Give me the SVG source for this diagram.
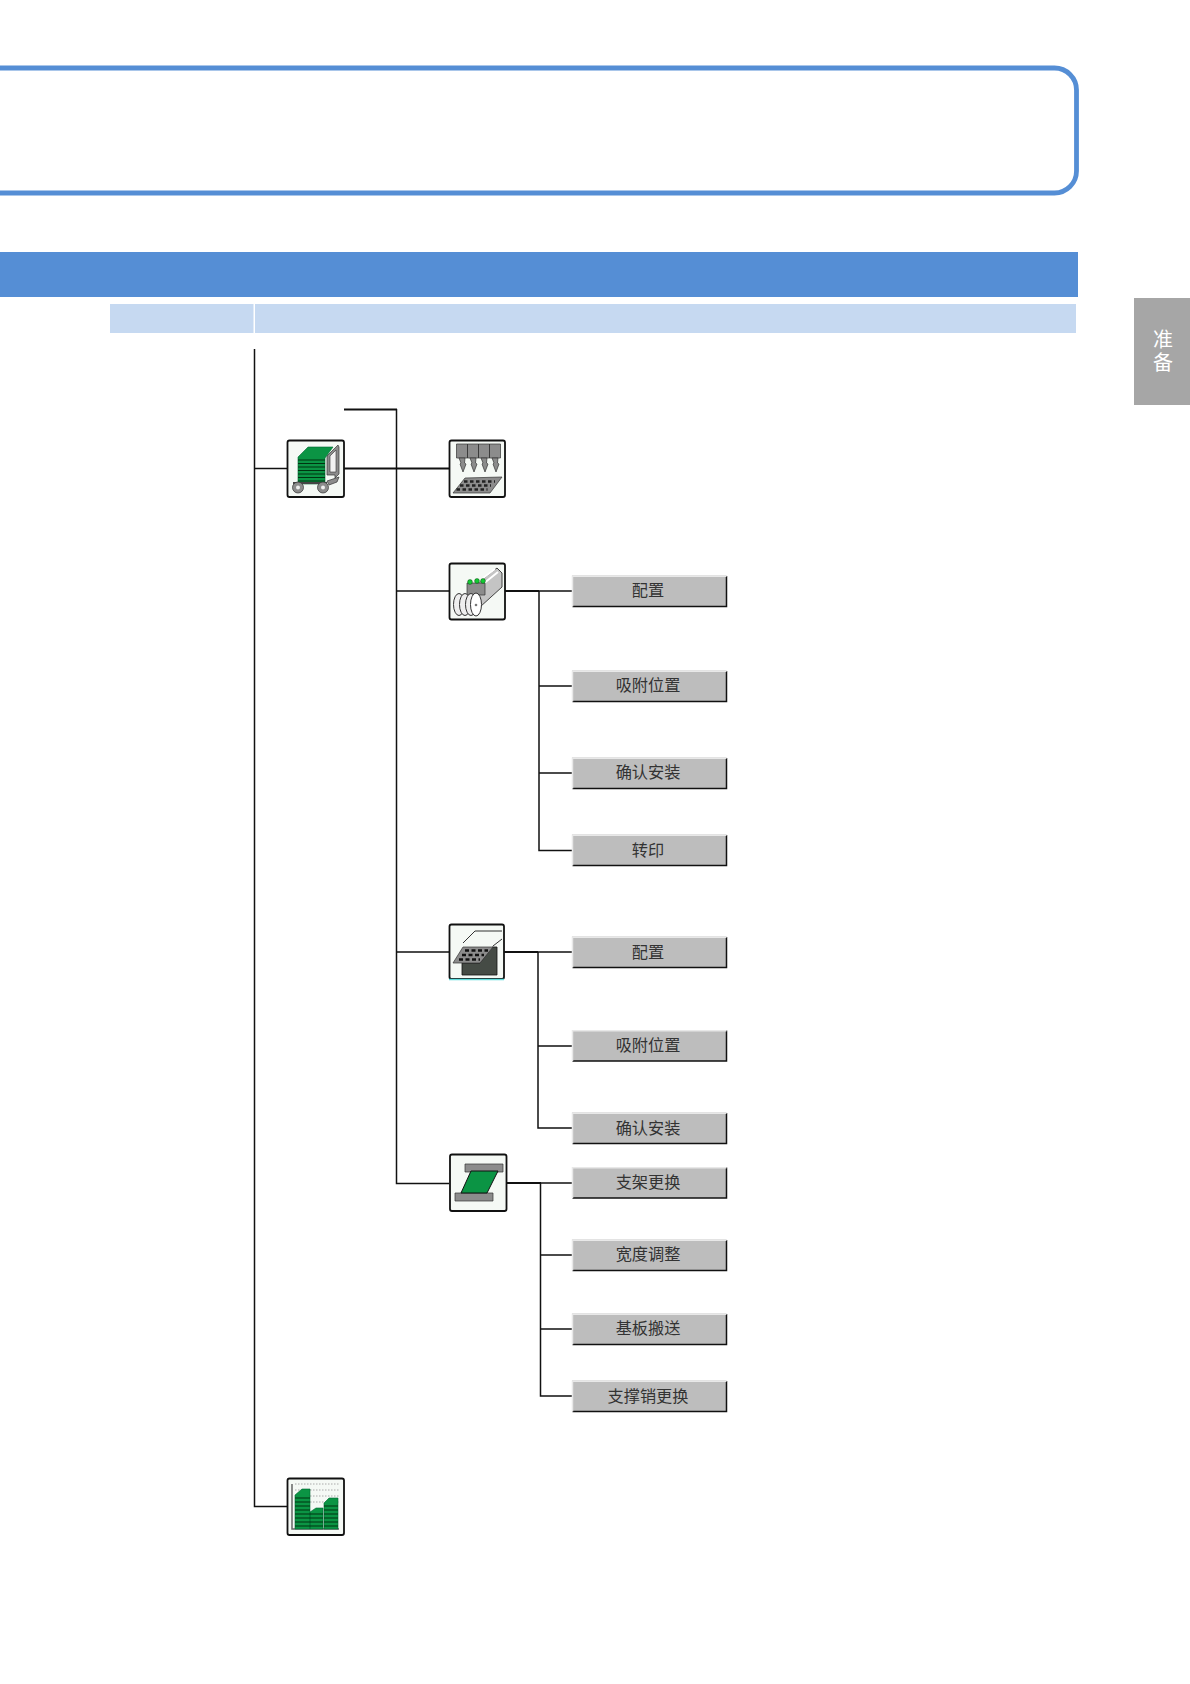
<svg xmlns="http://www.w3.org/2000/svg" width="1190" height="1684" viewBox="0 0 1190 1684">
<style>
.btnbg{fill:#bdbdbd;stroke:none}
.hl{fill:none;stroke:#e8e8e8;stroke-width:1.5}
.sh{fill:none;stroke:#111;stroke-width:1.5}
.lbl{font-family:"Noto Sans CJK SC","Liberation Sans",sans-serif;font-size:16.200px;fill:#333;text-anchor:middle}
.tab{font-family:"Noto Sans CJK SC","Liberation Sans",sans-serif;font-size:20px;fill:#fff;text-anchor:middle}
.ic{fill:#f5f9f5;stroke:#111;stroke-width:1.800}
.c{fill:none;stroke:#111;stroke-width:1.500}
.t{fill:none;stroke:#111;stroke-width:2}
.g{fill:#0b9444;stroke:#063;stroke-width:.6}
.k{fill:#8c8c8c;stroke:#333;stroke-width:.7}
.st{fill:none;stroke:#031;stroke-width:1.100}
</style>
<defs>
<g id="btn">
<rect class="btnbg" width="154.500" height="31"/>
<path class="sh" d="M0.500 31H154.500V0.500"/>
<path class="hl" d="M0.500 31V0.700H154.500"/>
</g>
</defs>
<rect id="title-frame" x="-30" y="68" width="1106.500" height="125" rx="22" fill="none" stroke="#558ed5" stroke-width="4.800"/>
<rect id="header-bar" x="0" y="252" width="1078" height="45" fill="#558ed5"/>
<rect id="subhead-a" x="110" y="304" width="143.500" height="29" fill="#c6d9f1"/>
<rect id="subhead-b" x="255" y="304" width="821" height="29" fill="#c6d9f1"/>
<g id="side-tab">
<rect x="1134" y="298" width="56" height="107" fill="#a6a6a6"/>
<text class="tab" x="1163" y="347">准</text>
<text class="tab" x="1163" y="370">备</text>
</g>
<g id="connectors">
<path class="c" d="M254.500 349V1506.500H287M254.500 468.500H287"/>
<path class="t" d="M344 409.500H397"/>
<path class="t" d="M344 468.500H449"/>
<path class="c" d="M396.500 409V1183.500H449M396.500 591H449M396.500 952H449"/>
<path class="t" d="M505 591H539"/>
<path class="c" d="M539 591V850.500H572M539 591H572M539 686H572M539 773H572"/>
<path class="t" d="M504 952H538"/>
<path class="c" d="M538 952V1128H572M538 952H572M538 1046H572"/>
<path class="t" d="M507 1183H541"/>
<path class="c" d="M540.500 1183V1396H573M540.500 1183H573M540.500 1255H572M540.500 1329H572"/>
</g>
<g id="icon-cart">
<rect class="ic" x="287.500" y="440.500" width="56.500" height="56.500" rx="2"/>
<path class="k" d="M327 456l11-11 1 2v27l-4 4v-3h-8z"/>
<path d="M330 456l6-6v22h-6z" fill="#f2f2f2" stroke="#333" stroke-width=".6"/>
<path class="g" d="M298 457l10-10h25l-8 11v26h-27z"/>
<path class="st" d="M298 460h27M298 463.500h27M298 467h27M298 470.500h27M298 474h27M298 477.500h27M298 481h27"/>
<path class="k" d="M327 481l12-4-2 5-8 3z"/>
<path d="M293 483h34" stroke="#444" stroke-width="2"/>
<circle class="k" cx="298" cy="487.500" r="5.500"/>
<circle class="k" cx="323" cy="487.500" r="5.500"/>
<circle cx="298" cy="487.500" r="2" fill="#eee"/>
<circle cx="323" cy="487.500" r="2" fill="#eee"/>
</g>
<g id="icon-nozzle">
<rect class="ic" x="449.500" y="440.500" width="55.500" height="56.500" rx="2"/>
<path class="k" d="M456.500 444h11v14h-11zM467.500 444h11v14h-11zM478.500 444h11v14h-11zM489.500 444h11v14h-11z"/>
<path class="k" d="M459 458h6l-.5 5 1.500 1-3 8-3-8 1-1zM470 458h6l-.5 5 1.500 1-3 8-3-8 1-1zM481 458h6l-.5 5 1.500 1-3 8-3-8 1-1zM492 458h6l-.5 5 1.500 1-3 8-3-8 1-1z"/>
<path class="k" fill="#bbb" d="M465 478l37-1-12 16h-37z"/>
<path d="M464 481.500h31M460 485.500h31M456.500 489.500h31" stroke="#222" stroke-width="2.300" stroke-dasharray="3.500 2.500" fill="none"/>
</g>
<g id="icon-feeder">
<rect class="ic" x="449.500" y="563.500" width="55.500" height="56" rx="2"/>
<path d="M473 587l24-19 5 5v14l-22 20-7-5z" fill="#c4c4c4" stroke="#444"/>
<path d="M478 582l17-13M483 584l15-12" stroke="#fff" stroke-width="2"/>
<path class="k" d="M467 583h18v12h-18z"/>
<circle cx="470" cy="582" r="2.400" fill="#1c3" stroke="#141" stroke-width=".5"/>
<circle cx="477" cy="581" r="2.400" fill="#1c3" stroke="#141" stroke-width=".5"/>
<circle cx="483" cy="581" r="2.400" fill="#1c3" stroke="#141" stroke-width=".5"/>
<ellipse cx="459" cy="604.500" rx="5.500" ry="11" fill="#eee" stroke="#333"/>
<ellipse cx="465" cy="604.500" rx="5.500" ry="11" fill="#eee" stroke="#333"/>
<ellipse cx="471" cy="604.500" rx="5.500" ry="11" fill="#eee" stroke="#333"/>
<ellipse cx="476" cy="604.500" rx="5.500" ry="11.500" fill="#fff" stroke="#333"/>
<circle cx="476" cy="605" r="1.300" fill="#777"/>
</g>
<g id="icon-tray">
<rect class="ic" x="449.500" y="924.500" width="54.500" height="54.500" rx="2"/>
<path d="M449 979.500h55" stroke="#5fdcdc" stroke-width="1.500"/>
<path d="M463 943l12-12h27M493 946l9-7" fill="none" stroke="#333"/>
<path d="M462 963h18l12-16h5v28h-35z" fill="#454b45" stroke="#111" stroke-width=".8"/>
<path class="k" d="M463 947h30l-13 16h-27z"/>
<path d="M465 950.500h23M462 955h22M459 959.500h21" stroke="#111" stroke-width="2.600" stroke-dasharray="4 2.500" fill="none"/>
</g>
<g id="icon-board">
<rect class="ic" x="450" y="1154.500" width="56.500" height="56.500" rx="2"/>
<path class="k" d="M465 1164h38v8h-38z"/>
<path class="k" d="M455 1193h38v8h-38z"/>
<path d="M471 1171h27l-11 22h-26z" fill="#0b9444" stroke="#111"/>
</g>
<g id="icon-chart">
<rect class="ic" x="287.500" y="1478.500" width="56.500" height="56.500" rx="2"/>
<path d="M292 1484v45h47" fill="none" stroke="#666" stroke-width="1.500"/>
<path d="M295 1484h44M295 1490h44M295 1496h44M295 1502h44" stroke="#aaa" stroke-width="1" stroke-dasharray="1.500 1.500"/>
<path class="g" d="M295 1495l7-6h8v40h-15zM310 1512l6-4h7v21h-13zM324 1503l5-5h9v31h-14z"/>
<path class="st" d="M295 1498h15M295 1502h15M295 1506h15M295 1510h15M295 1514h15M295 1518h15M295 1522h15M295 1526h15M310 1514h13M310 1518h13M310 1522h13M310 1526h13M324 1506h14M324 1510h14M324 1514h14M324 1518h14M324 1522h14M324 1526h14"/>
</g>
<g id="b1"><use href="#btn" x="572" y="575.500"/><text class="lbl" x="648" y="596">配置</text></g>
<g id="b2"><use href="#btn" x="572" y="670.500"/><text class="lbl" x="648" y="691">吸附位置</text></g>
<g id="b3"><use href="#btn" x="572" y="757.500"/><text class="lbl" x="648" y="778">确认安装</text></g>
<g id="b4"><use href="#btn" x="572" y="834.500"/><text class="lbl" x="648" y="855.500">转印</text></g>
<g id="b5"><use href="#btn" x="572" y="936.500"/><text class="lbl" x="648" y="957.500">配置</text></g>
<g id="b6"><use href="#btn" x="572" y="1030"/><text class="lbl" x="648" y="1051">吸附位置</text></g>
<g id="b7"><use href="#btn" x="572" y="1112.500"/><text class="lbl" x="648" y="1133.500">确认安装</text></g>
<g id="b8"><use href="#btn" x="573" y="1167" transform="translate(-1 0)"/><text class="lbl" x="648" y="1188">支架更换</text></g>
<g id="b9"><use href="#btn" x="572" y="1239.500"/><text class="lbl" x="648" y="1260">宽度调整</text></g>
<g id="b10"><use href="#btn" x="572" y="1313.500"/><text class="lbl" x="648" y="1334">基板搬送</text></g>
<g id="b11"><use href="#btn" x="572" y="1380.500"/><text class="lbl" x="648" y="1401.500">支撑销更换</text></g>
</svg>
